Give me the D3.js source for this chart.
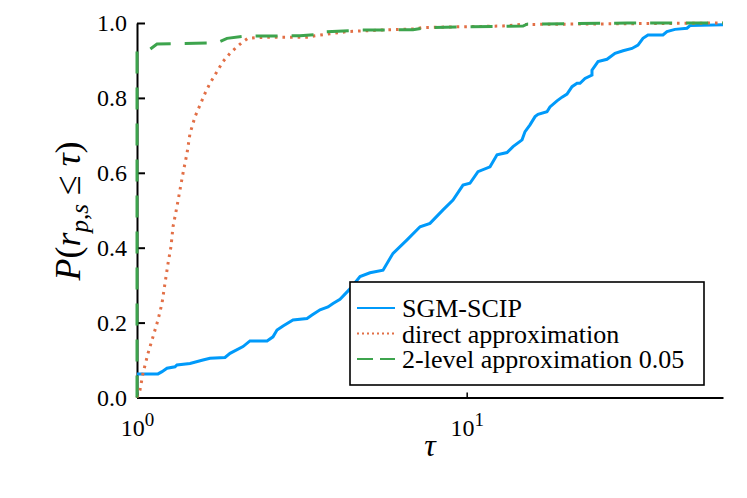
<!DOCTYPE html>
<html>
<head>
<meta charset="utf-8">
<script src="https://cdn.jsdelivr.net/npm/d3@7"></script>
<style>
  body { margin: 0; background: #fff; }
</style>
</head>
<body>
<svg id="chart" width="747" height="498"></svg>
<script>
// ---- DATA (tau, P) ----
const seriesNames = ["SGM-SCIP", "direct approximation", "2-level approximation 0.05"];

const sgmTau = [1.000, 1.158, 1.191, 1.233, 1.304, 1.322, 1.448, 1.585, 1.665, 1.849, 1.915, 2.097, 2.201, 2.480,
  2.585, 2.659, 2.773, 2.973, 3.279, 3.395, 3.591, 3.796, 3.931, 4.128, 4.426, 4.748, 5.090, 5.575, 5.978,
  6.592, 7.220, 7.738, 8.477, 9.088, 9.745, 10.23, 10.82, 11.77, 12.36, 13.25, 13.82, 14.72, 15.03, 15.56,
  16.12, 16.46, 17.52, 17.89, 18.79, 19.46, 20.15, 20.87, 21.61, 22.07, 22.85, 23.99, 23.99, 25.02, 26.64,
  28.18, 29.80, 31.72, 33.08, 34.25, 35.47, 39.38, 40.50, 42.83, 46.58, 47.57, 59.9];
const sgmP = [0.063, 0.063, 0.069, 0.078, 0.082, 0.087, 0.091, 0.100, 0.105, 0.107, 0.118, 0.136, 0.151, 0.151,
  0.162, 0.180, 0.191, 0.207, 0.211, 0.220, 0.234, 0.242, 0.251, 0.262, 0.290, 0.323, 0.333, 0.340, 0.385,
  0.421, 0.456, 0.465, 0.501, 0.527, 0.567, 0.572, 0.603, 0.616, 0.648, 0.654, 0.670, 0.688, 0.710, 0.728,
  0.750, 0.756, 0.763, 0.776, 0.792, 0.802, 0.810, 0.830, 0.839, 0.839, 0.852, 0.861, 0.874, 0.897, 0.903,
  0.919, 0.926, 0.932, 0.941, 0.959, 0.968, 0.968, 0.977, 0.983, 0.986, 0.993, 0.995];

const directTau = [1.000, 1.021, 1.043, 1.080, 1.118, 1.158, 1.191, 1.216, 1.242, 1.268, 1.286, 1.322, 1.350,
  1.379, 1.418, 1.448, 1.500, 1.553, 1.608, 1.665, 1.748, 1.823, 1.915, 2.011, 2.097, 2.171, 2.312, 2.568,
  3.279, 3.467, 4.335, 5.458, 6.969, 7.370, 12.89, 14.51, 59.9];
const directP = [0.000, 0.020, 0.065, 0.118, 0.162, 0.207, 0.252, 0.305, 0.358, 0.403, 0.456, 0.510, 0.554,
  0.599, 0.652, 0.705, 0.750, 0.781, 0.812, 0.839, 0.870, 0.897, 0.919, 0.937, 0.950, 0.959, 0.961, 0.962,
  0.962, 0.966, 0.977, 0.981, 0.984, 0.988, 0.992, 0.996, 1.000];

const twoLevelTau = [1.000, 1.000, 1.095, 1.150, 1.748, 1.875, 2.127, 3.121, 3.591, 3.666, 4.849, 6.872, 7.580,
  14.82, 15.24, 30.64, 59.9];
const twoLevelP = [0.000, 0.925, 0.930, 0.944, 0.947, 0.959, 0.965, 0.966, 0.970, 0.976, 0.981, 0.982, 0.988,
  0.992, 0.997, 1.000, 1.000];

const yTicks = [0, 0.2, 0.4, 0.6, 0.8, 1.0];
const xTicks = [1, 10];
const xTickExp = ["0", "1"];

// ---- LAYOUT ----
const FONT = "Liberation Serif";
const svg = d3.select("#chart").attr("font-family", FONT);
const plotLeft = 137, plotRight = 723, plotTop = 23, plotBottom = 397.5;

const x = d3.scaleLog().domain([1, 59.9]).range([plotLeft, plotRight]);
const y = d3.scaleLinear().domain([0, 1]).range([plotBottom, plotTop]);

const series = [
  { tau: sgmTau, p: sgmP, color: "#009afa", dash: null, legendDash: null },
  { tau: directTau, p: directP, color: "#e26f46", dash: "2.6,5", legendDash: "2,3" },
  { tau: twoLevelTau, p: twoLevelP, color: "#3da44d", dash: "22,14", legendDash: "16,7" }
];

const line = d3.line().x(d => x(d[0])).y(d => y(d[1]));

// serif text helper
function serif(sel, size) {
  return sel.attr("font-family", FONT).attr("font-size", size)
    .style("font-family", "'Liberation Serif', serif").style("font-size", size + "px")
    .attr("fill", "#000");
}

// ---- AXES ----
const yAxis = svg.append("g")
  .attr("transform", `translate(${plotLeft},0)`)
  .call(d3.axisLeft(y).tickValues(yTicks).tickFormat(d3.format(".1f"))
    .tickSizeInner(-8).tickSizeOuter(0).tickPadding(10));
yAxis.attr("font-family", FONT).attr("font-size", 24);
yAxis.select(".domain").attr("stroke-width", 2);
yAxis.selectAll(".tick line").attr("stroke-width", 2);
serif(yAxis.selectAll(".tick text"), 24);

const xAxis = svg.append("g")
  .attr("transform", `translate(0,${plotBottom})`)
  .call(d3.axisBottom(x).tickValues(xTicks).tickFormat(() => "")
    .tickSizeInner(-5).tickSizeOuter(0));
xAxis.attr("font-family", FONT).attr("font-size", 24);
xAxis.select(".domain").attr("stroke-width", 2);
xAxis.selectAll(".tick line").attr("stroke-width", 1.5);
xAxis.selectAll(".tick text").each(function(d, i) {
  const t = serif(d3.select(this), 24).attr("dy", null).attr("y", 38)
    .attr("text-anchor", "middle");
  t.append("tspan").text("10");
  t.append("tspan").attr("font-size", 19).style("font-size", "19px").attr("dy", -10).text(xTickExp[i]);
});

// ---- LINES ----
series.forEach(s => {
  const pts = s.tau.map((t, i) => [t, s.p[i]]);
  svg.append("path")
    .datum(pts)
    .attr("fill", "none")
    .attr("stroke", s.color)
    .attr("stroke-width", 3)
    .attr("stroke-dasharray", s.dash)
    .attr("d", line);
});

// ---- LABELS ----
serif(svg.append("text"), 32)
  .attr("x", (plotLeft + plotRight) / 2)
  .attr("y", 456)
  .attr("font-style", "italic")
  .attr("text-anchor", "middle")
  .text("τ");

const yl = serif(svg.append("text"), 36)
  .attr("transform", "translate(80,211) rotate(-90)")
  .attr("text-anchor", "middle");
yl.append("tspan").attr("font-style", "italic").text("P");
yl.append("tspan").text("(");
yl.append("tspan").attr("font-style", "italic").text("r");
yl.append("tspan").style("font-size", "25px").attr("dy", 8).attr("font-style", "italic").text("p");
yl.append("tspan").style("font-size", "25px").text(",");
yl.append("tspan").style("font-size", "25px").attr("font-style", "italic").text("s");
yl.append("tspan").attr("dy", -8).text(" ≤ ");
yl.append("tspan").attr("font-style", "italic").text("τ");
yl.append("tspan").text(")");

// ---- LEGEND ----
svg.append("rect")
  .attr("x", 350).attr("y", 282).attr("width", 354).attr("height", 103)
  .attr("fill", "#fff").attr("stroke", "#000").attr("stroke-width", 1.6);

series.forEach((s, i) => {
  const ly = 308 + i * 25.5;
  svg.append("line")
    .attr("x1", 357).attr("x2", 395).attr("y1", ly).attr("y2", ly)
    .attr("stroke", s.color).attr("stroke-width", 2.2)
    .attr("stroke-dasharray", s.legendDash);
  serif(svg.append("text"), 26)
    .attr("x", 402).attr("y", ly + 9)
    .text(seriesNames[i]);
});
</script>
</body>
</html>
